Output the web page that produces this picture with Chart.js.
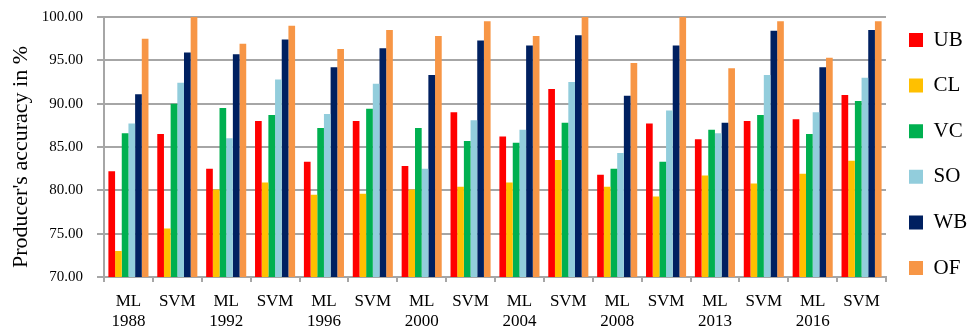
<!DOCTYPE html>
<html>
<head>
<meta charset="utf-8">
<script src="https://cdn.jsdelivr.net/npm/chart.js@4/dist/chart.umd.min.js"></script>
<style>
html,body{margin:0;padding:0;background:#fff;}
#wrap{width:968px;height:332px;position:relative;}
</style>
</head>
<body>
<div id="wrap"><canvas id="c" width="968" height="332"></canvas></div>
<script>
const methods = ["ML","SVM","ML","SVM","ML","SVM","ML","SVM","ML","SVM","ML","SVM","ML","SVM","ML","SVM"];
const years   = ["1988","","1992","","1996","","2000","","2004","","2008","","2013","","2016",""];
const seriesNames = ["UB","CL","VC","SO","WB","OF"];
const seriesColors = ["#FF0000","#FFC000","#00B050","#92CDDC","#002060","#F79646"];
const UB = [82.2,86.5,82.5,88.0,83.3,88.0,82.8,89.0,86.2,91.7,81.8,87.7,85.9,88.0,88.2,91.0];
const CL = [73.0,75.6,80.1,80.9,79.5,79.6,80.1,80.4,80.9,83.5,80.4,79.3,81.7,80.8,81.9,83.4];
const VC = [86.6,90.0,89.5,88.7,87.2,89.4,87.2,85.7,85.5,87.8,82.5,83.3,87.0,88.7,86.5,90.3];
const SO = [87.7,92.4,86.0,92.8,88.8,92.3,82.5,88.1,87.0,92.5,84.3,89.2,86.6,93.3,89.0,93.0];
const WB = [91.1,95.9,95.7,97.4,94.2,96.4,93.3,97.3,96.7,97.9,90.9,96.7,87.8,98.4,94.2,98.5];
const OF = [97.5,100.0,96.9,99.0,96.3,98.5,97.8,99.5,97.8,100.0,94.7,100.0,94.1,99.5,95.3,99.5];
const yTicks = [70,75,80,85,90,95,100];
const yTitle = "Producer's accuracy in %";

const seriesData = [UB,CL,VC,SO,WB,OF];
const labels = methods.map((m,i)=> years[i] ? [m, years[i]] : m);
const FONT = "'Liberation Serif', 'Times New Roman', serif";
Chart.defaults.font.family = FONT;
Chart.defaults.color = '#000';

const legendPlace = {
  id: 'legendPlace',
  beforeLayout(chart) {
    const lg = chart.legend;
    if (lg && !lg._patched) {
      const orig = lg.fit.bind(lg);
      lg.fit = function() { orig(); this.width = 78; };
      lg._patched = true;
    }
  },
  afterLayout(chart) {
    const lg = chart.legend;
    if (!lg) return;
    lg.left = 884.4; lg.right = 968;
    lg.top = 0; lg.bottom = 308;
  }
};

function yAfterFit(s) {
  s.width = 96;
  s.paddingTop = 0;
  s.paddingBottom = 0;
  if (!s._titlePatched) {
    const orig = s.drawTitle.bind(s);
    s.drawTitle = function() {
      const ctx = this.ctx;
      ctx.save();
      ctx.translate(0, 10);
      orig();
      ctx.restore();
    };
    s._titlePatched = true;
  }
}

new Chart(document.getElementById('c'), {
  type: 'bar',
  data: {
    labels: labels,
    datasets: seriesNames.map((n,i)=>({
      label: n,
      data: seriesData[i],
      backgroundColor: seriesColors[i],
      borderWidth: 0,
      barPercentage: 1.0,
      categoryPercentage: 0.82
    }))
  },
  plugins: [legendPlace],
  options: {
    responsive: false,
    animation: false,
    layout: { padding: { left: 8, right: 4, top: 17, bottom: 0 } },
    plugins: {
      tooltip: { enabled: false },
      legend: {
        position: 'right',
        labels: {
          font: { family: FONT, size: 21 },
          color: '#000',
          boxWidth: 14,
          boxHeight: 14,
          padding: 24.6
        }
      }
    },
    scales: {
      x: {
        afterFit: (s)=>{ s.height = 55; s.paddingLeft = 0; s.paddingRight = 0; },
        grid: { drawOnChartArea: false, drawTicks: true, tickLength: 5, color: '#a6a6a6', lineWidth: 2, offset: true },
        border: { color: '#a6a6a6', width: 2 },
        ticks: { font: { family: FONT, size: 17, lineHeight: 1.15 }, color: '#000', maxRotation: 0, autoSkip: false, padding: 10 }
      },
      y: {
        min: 70, max: 100,
        afterFit: yAfterFit,
        afterBuildTicks: (s)=>{ s.ticks = yTicks.map(v=>({value:v})); },
        grid: { color: '#a6a6a6', lineWidth: 2, tickLength: 7 },
        border: { color: '#a6a6a6', width: 2 },
        ticks: { font: { family: FONT, size: 15 }, color: '#000', padding: 14, callback: (v)=>Number(v).toFixed(2) },
        title: { display: true, text: yTitle, font: { family: FONT, size: 22 }, color: '#000', padding: { top: 0, bottom: 6 } }
      }
    }
  }
});
</script>
</body>
</html>
